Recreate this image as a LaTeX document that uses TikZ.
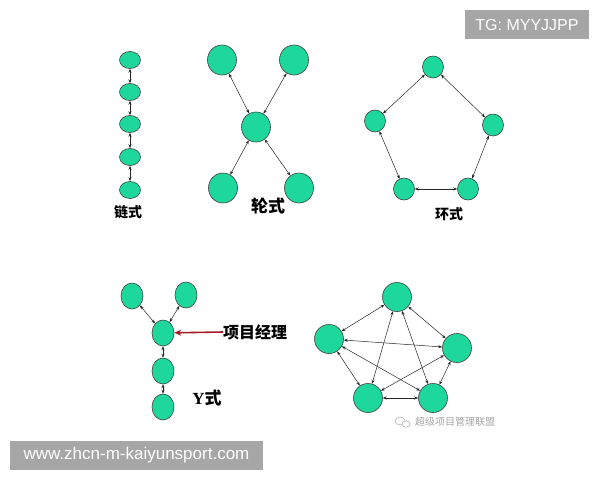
\documentclass[tikz,border=0pt]{standalone}
\usepackage{fontspec}
\setmainfont{Liberation Serif}
\newfontfamily\cjk{Noto Sans CJK SC}
\newfontfamily\sansf{Liberation Sans}
\usetikzlibrary{shapes.geometric,arrows.meta}
\definecolor{nodegreen}{RGB}{30,215,155}
\definecolor{bannergray}{RGB}{166,166,166}
\definecolor{darkred}{RGB}{160,30,40}
\tikzset{
  nd/.style={ellipse,draw=black!75,line width=0.6pt,fill=nodegreen,inner sep=0pt},
  sm/.style={nd,minimum width=21pt,minimum height=17pt},
  md/.style={nd,minimum width=22pt,minimum height=26pt},
  lg/.style={nd,minimum width=29pt,minimum height=30pt},
  rg/.style={nd,minimum width=21pt,minimum height=22pt},
  fc/.style={nd,minimum width=29pt,minimum height=29pt},
  link/.style={line width=0.5pt,black!85,{Stealth[length=4pt,width=3pt]}-{Stealth[length=4pt,width=3pt]}},
  lbl/.style={inner sep=0pt},
  banner/.style={fill=bannergray,draw=none,text=white,inner sep=0pt}
}
\begin{document}
\begin{tikzpicture}[x=1pt,y=-1pt]
\useasboundingbox[fill=white] (0,0) rectangle (600,480);
% chain
\node[sm] (c1) at (130,60) {};
\node[sm] (c2) at (130,92) {};
\node[sm] (c3) at (130,124) {};
\node[sm] (c4) at (130,157) {};
\node[sm] (c5) at (130,190) {};
\foreach \a/\b in {c1/c2,c2/c3,c3/c4,c4/c5} \draw[link] (\a) -- (\b);
\node[lbl,font=\cjk\bfseries\fontsize{14}{14}\selectfont] (lc) at (128,212) {链式};
% wheel
\node[lg] (w1) at (222,60) {};
\node[lg] (w2) at (294,60) {};
\node[lg] (w0) at (256,127) {};
\node[lg] (w3) at (223,188) {};
\node[lg] (w4) at (299,188) {};
\foreach \b in {w1,w2,w3,w4} \draw[link] (w0) -- (\b);
\node[lbl,font=\cjk\bfseries\fontsize{17}{17}\selectfont] (lw) at (268,206) {轮式};
% ring
\node[rg] (r1) at (433,67) {};
\node[rg] (r2) at (375,121) {};
\node[rg] (r3) at (493,125) {};
\node[rg] (r4) at (404,189) {};
\node[rg] (r5) at (468,189) {};
\foreach \a/\b in {r1/r2,r1/r3,r2/r4,r3/r5,r4/r5} \draw[link] (\a) -- (\b);
\node[lbl,font=\cjk\bfseries\fontsize{14}{14}\selectfont] (lr) at (449,214) {环式};
% Y
\node[md] (y1) at (132,296) {};
\node[md] (y2) at (186,295) {};
\node[md] (y0) at (163,333) {};
\node[md] (y3) at (163,371) {};
\node[md] (y4) at (163,407) {};
\foreach \a/\b in {y0/y1,y0/y2,y0/y3,y3/y4} \draw[link] (\a) -- (\b);
\node[lbl,anchor=west,font=\cjk\bfseries\fontsize{16}{16}\selectfont] (pm) at (223,332) {项目经理};
\draw[darkred,line width=1.6pt,-{Stealth[length=7pt,width=6pt]}] (pm.west) -- (y0);
\node[lbl,font=\bfseries\fontsize{17}{17}\selectfont] (ly) at (207,398) {Y{\cjk\bfseries 式}};
% full
\node[fc] (f1) at (397,297) {};
\node[fc] (f2) at (329,339) {};
\node[fc] (f3) at (457,348) {};
\node[fc] (f4) at (368,398) {};
\node[fc] (f5) at (433,398) {};
\foreach \a/\b in {f1/f2,f1/f3,f1/f4,f1/f5,f2/f3,f2/f4,f2/f5,f3/f4,f3/f5,f4/f5} \draw[link] (\a) -- (\b);
\node[lbl,text=black!35,font=\cjk\fontsize{10}{10}\selectfont] (wm) at (455,422) {超级项目管理联盟};
% wechat-like icon
\draw[black!30,line width=0.6pt] (400,421) ellipse [x radius=5pt,y radius=4pt];
\draw[black!30,line width=0.6pt,fill=white] (406,424) ellipse [x radius=4pt,y radius=3.2pt];
% banners
\node[banner,minimum width=124pt,minimum height=29pt,font=\sansf\fontsize{16}{16}\selectfont] (tg) at (527,24.5) {TG: MYYJJPP};
\node[banner,minimum width=253pt,minimum height=29pt,font=\sansf\fontsize{17}{17}\selectfont] (www) at (136.5,455) {www.zhcn-m-kaiyunsport.com};
\end{tikzpicture}
\end{document}
